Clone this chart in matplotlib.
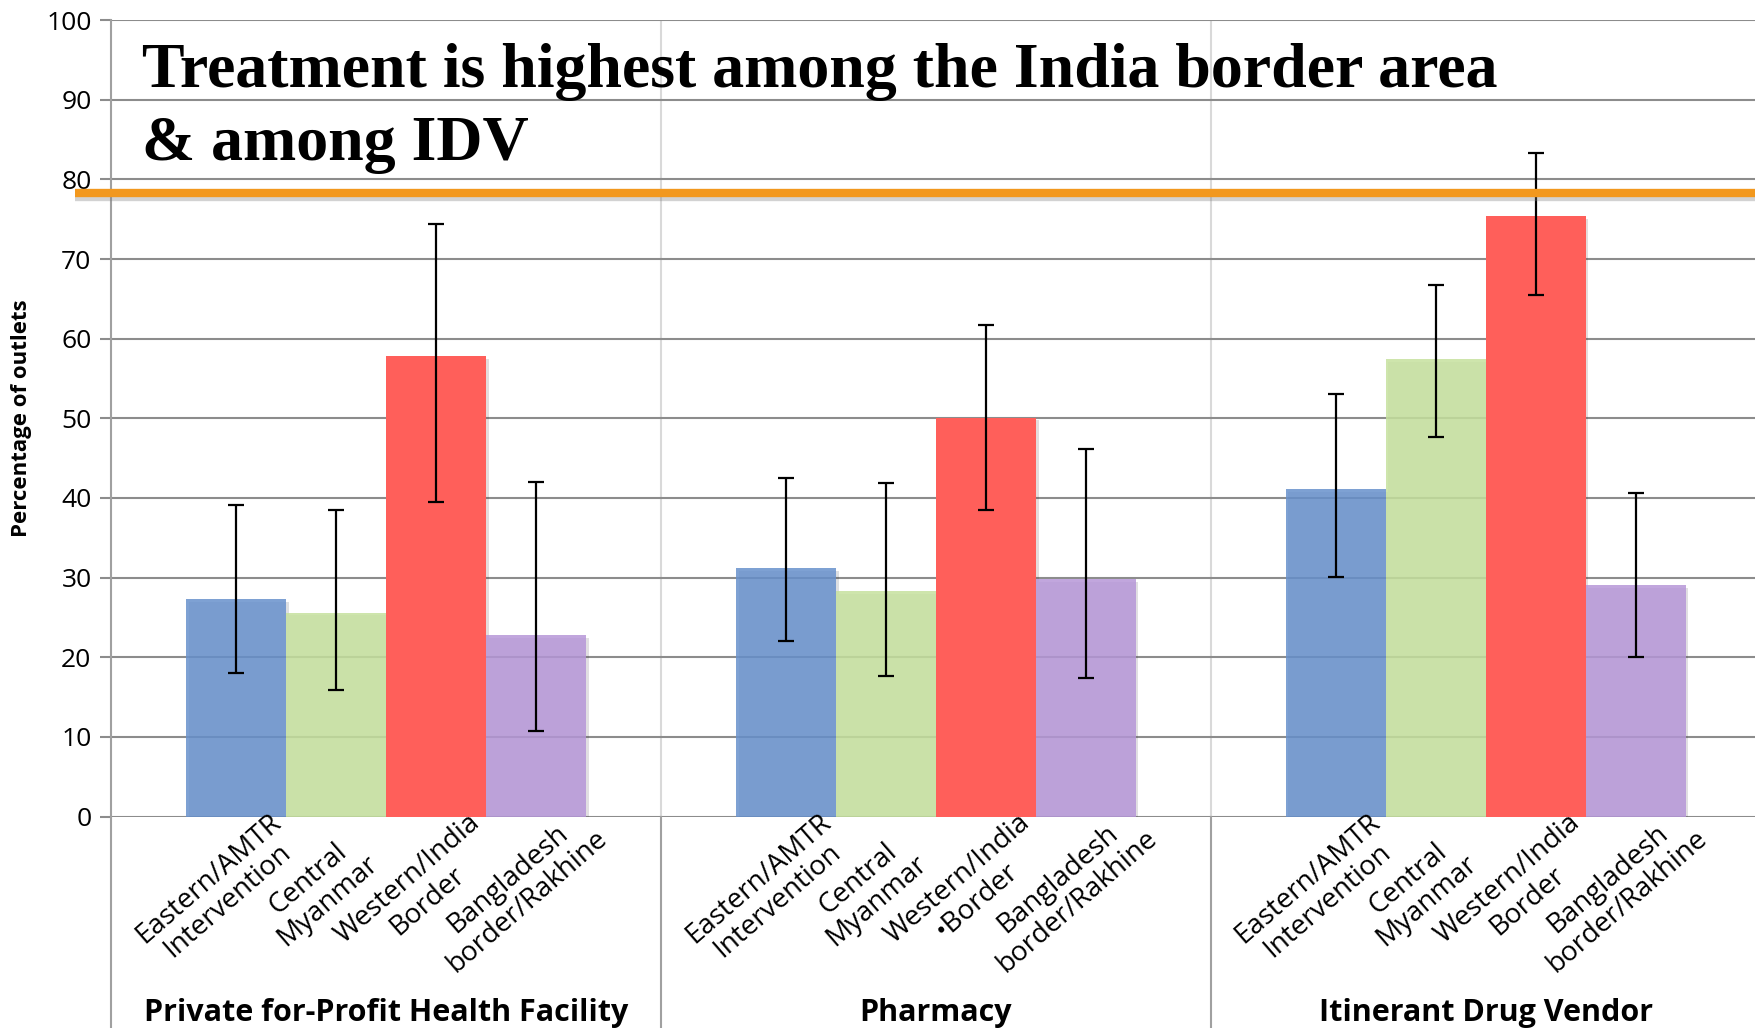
import matplotlib.pyplot as plt
import matplotlib.patheffects as pe
import matplotlib.transforms as mtransforms
import numpy as np

# outlet types (groups) and regions (bars inside each group)
groups = ['Private for-Profit Health Facility', 'Pharmacy', 'Itinerant Drug Vendor']
regions = ['Eastern/AMTR', 'Central', 'Western/India', 'Bangladesh']
region_labels = [
    ['Eastern/AMTR\nIntervention', 'Central\nMyanmar', 'Western/India\nBorder', 'Bangladesh\nborder/Rakhine'],
    ['Eastern/AMTR\nIntervention', 'Central\nMyanmar', 'Western/India\n\u2022Border', 'Bangladesh\nborder/Rakhine'],
    ['Eastern/AMTR\nIntervention', 'Central\nMyanmar', 'Western/India\nBorder', 'Bangladesh\nborder/Rakhine'],
]

# percentage of outlets treating, per region, one list per group
eastern = [27.3, 31.2, 41.1]
central = [25.6, 28.3, 57.4]
western = [57.8, 50.1, 75.4]
bangladesh = [22.8, 29.8, 29.1]

# confidence interval bounds
eastern_lo = [18.0, 22.1, 30.1]
eastern_hi = [39.1, 42.5, 53.0]
central_lo = [15.9, 17.7, 47.7]
central_hi = [38.5, 41.9, 66.8]
western_lo = [39.5, 38.5, 65.5]
western_hi = [74.4, 61.7, 83.3]
bangladesh_lo = [10.7, 17.4, 20.0]
bangladesh_hi = [42.0, 46.1, 40.6]

highlight_level = 78.3

values = [eastern, central, western, bangladesh]
lows = [eastern_lo, central_lo, western_lo, bangladesh_lo]
highs = [eastern_hi, central_hi, western_hi, bangladesh_hi]
colors = ['#6891CC', '#C6E19E', '#FF5F5A', '#B697D8']
alphas = [0.85, 0.85, 1.0, 0.85]

sans = 'Open Sans'

fig = plt.figure(figsize=(17.56, 10.28), dpi=100)
ax = fig.add_axes([110.9 / 1756, 1 - 816.5 / 1028, (1760.6 - 110.9) / 1756, (816.5 - 20.2) / 1028])

x = np.arange(len(groups))
width = 1 / 5.5
for i in range(len(regions)):
    pos = x + (i - 1.5) * width
    vals = np.array(values[i])
    err = [vals - np.array(lows[i]), np.array(highs[i]) - vals]
    ax.bar(pos, vals, width, color=colors[i], alpha=alphas[i], zorder=2,
           path_effects=[pe.SimplePatchShadow(offset=(2, -2), alpha=0.15), pe.Normal()])
    ax.errorbar(pos, vals, yerr=err, fmt='none', ecolor='black', elinewidth=1.6,
                capsize=5.8, capthick=1.6, zorder=3)

ax.set_xlim(-0.5, 2.5)
ax.set_ylim(0, 100)
ax.set_yticks(range(0, 101, 10))
ax.yaxis.grid(True, color='#8c8c8c', linewidth=1.5)
ax.set_axisbelow(True)
for s in ['top', 'right', 'bottom']:
    ax.spines[s].set_visible(False)
ax.spines['left'].set_color('#a0a0a0')
ax.spines['left'].set_linewidth(1.5)
ax.tick_params(axis='y', length=8, width=1.5, color='#8c8c8c', labelsize=19, pad=6)
ax.tick_params(axis='x', length=0, labelbottom=False)
for lab in ax.get_yticklabels():
    lab.set_fontfamily(sans)

# vertical separators between groups
for b in [0.5, 1.5]:
    ax.axvline(b, color='#d9d9d9', linewidth=1.5, zorder=0)
trans_sep = mtransforms.blended_transform_factory(ax.transData, ax.transAxes)
for b in [-0.5, 0.5, 1.5]:
    ax.plot([b, b], [0, -0.3], color='#a0a0a0', linewidth=1.5, transform=trans_sep, clip_on=False)

# region labels, rotated, centred below each bar
for g in range(len(groups)):
    for i in range(len(regions)):
        ax.annotate(region_labels[g][i], xy=(x[g] + (i - 1.5) * width, 0),
                    xytext=(-13, -53), textcoords='offset points',
                    rotation=41, ha='center', va='center', linespacing=1.05,
                    multialignment='center', fontsize=20, family=sans,
                    annotation_clip=False)

# group labels
trans_grp = mtransforms.blended_transform_factory(ax.transData, fig.transFigure)
for g, name in enumerate(groups):
    ax.text(x[g], 1 - 1021 / 1028, name, transform=trans_grp, ha='center', va='baseline',
            fontsize=22, fontweight='bold', family=sans)

ax.set_ylabel('Percentage of outlets', fontsize=16, fontweight='bold', family=sans)
ax.yaxis.set_label_coords(-0.048, 0.5)

# orange highlight line with shadow
trans_hl = mtransforms.blended_transform_factory(ax.transAxes, ax.transData)
ax.plot([-0.022, 1.05], [highlight_level, highlight_level], color='#F2981E', linewidth=6,
        transform=trans_hl, clip_on=False, zorder=5, solid_capstyle='butt',
        path_effects=[pe.SimpleLineShadow(offset=(0, -3), alpha=0.35, shadow_color='gray'), pe.Normal()])

fig.text(142 / 1756, 1 - 87 / 1028, 'Treatment is highest among the India border area',
         fontsize=46, fontweight='bold', family='Liberation Serif', va='baseline')
fig.text(142 / 1756, 1 - 160 / 1028, '& among IDV',
         fontsize=46, fontweight='bold', family='Liberation Serif', va='baseline')

fig.savefig('out.png', dpi=100, facecolor='white')
